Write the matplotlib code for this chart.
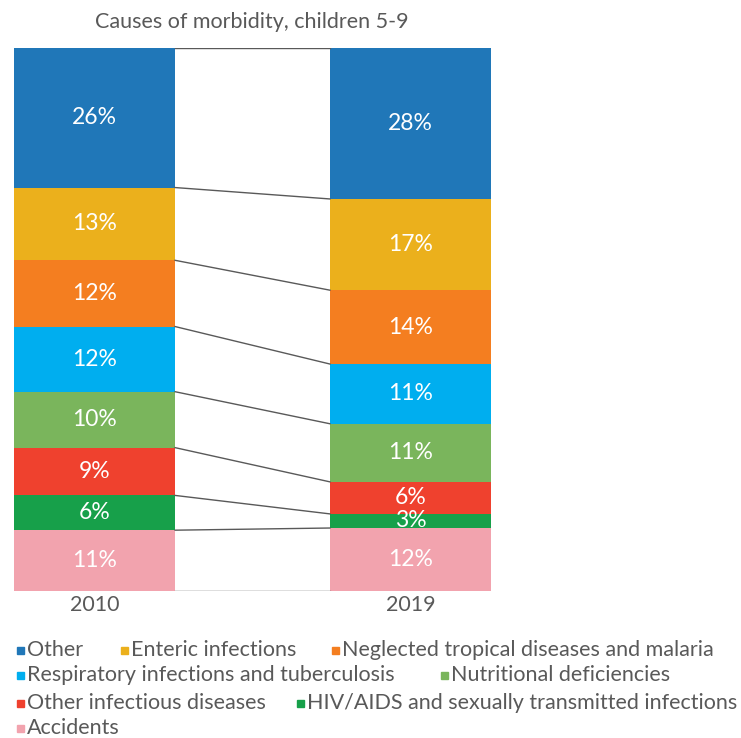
import matplotlib.pyplot as plt
import matplotlib.patches as mpatches
import numpy as np

plt.rcParams['font.family'] = ['Lato', 'DejaVu Sans']

years = ["2010", "2019"]
# bottom to top stacking order
causes = ["Accidents", "HIV/AIDS and sexually transmitted infections",
          "Other infectious diseases", "Nutritional deficiencies",
          "Respiratory infections and tuberculosis",
          "Neglected tropical diseases and malaria", "Enteric infections", "Other"]
share_2010 = [11.2, 6.4, 8.8, 10.3, 12.0, 12.2, 13.4, 25.7]
share_2019 = [11.6, 2.6, 5.9, 10.7, 11.0, 13.6, 16.8, 27.8]
colors = ["#F2A3AE", "#17A04A", "#EF412E", "#7AB55C",
          "#00AEEF", "#F47E20", "#EBB01C", "#2077B8"]

text_gray = "#595959"

fig = plt.figure(figsize=(7.41, 7.38), dpi=100)
ax = fig.add_axes([14 / 741, 1 - 591 / 738, 477 / 741, 543 / 738])

x = np.arange(len(years))
width = 0.51
data = np.array([share_2010, share_2019])
bottoms = np.zeros(len(years))
for i, cause in enumerate(causes):
    vals = data[:, i]
    ax.bar(x, vals, width, bottom=bottoms, color=colors[i], label=cause)
    for xi, v, b in zip(x, vals, bottoms):
        ax.text(xi, b + v / 2, "{:.0f}%".format(v), ha="center", va="center",
                color="white", fontsize=16.5)
    bottoms = bottoms + vals

# connector lines between the segment boundaries
cum = np.vstack([np.zeros(2), np.cumsum(data, axis=1).T])
for c in cum:
    ax.plot([x[0] + width / 2, x[1] - width / 2], [c[0], c[1]],
            color="#595959", lw=1)

ax.set_xlim(-width / 2, 1 + width / 2)
ax.set_ylim(0, 100)
ax.set_xticks(x, years)
ax.tick_params(axis="x", length=0, labelsize=15.5, labelcolor=text_gray, pad=3)
ax.set_yticks([])
for s in ax.spines.values():
    s.set_visible(False)

fig.text(252 / 741, 1 - 22 / 738, "Causes of morbidity, children 5-9",
         ha="center", va="center", fontsize=15.5, color=text_gray)

# legend laid out like the original (marker x, row y in pixels)
legend_pos = {
    "Other": (17, 650),
    "Enteric infections": (121, 650),
    "Neglected tropical diseases and malaria": (332, 650),
    "Respiratory infections and tuberculosis": (17, 675),
    "Nutritional deficiencies": (441, 675),
    "Other infectious diseases": (17, 703),
    "HIV/AIDS and sexually transmitted infections": (297, 703),
    "Accidents": (17, 728),
}
for cause, col in zip(causes, colors):
    px, py = legend_pos[cause]
    fig.patches.append(mpatches.Rectangle((px / 741, (1 - py / 738) - 3.5 / 738),
                                          7 / 741, 7 / 738, color=col,
                                          transform=fig.transFigure))
    fig.text((px + 10) / 741, 1 - py / 738, cause, ha="left", va="center",
             fontsize=15.5, color=text_gray)

fig.savefig("out.png", dpi=100)
